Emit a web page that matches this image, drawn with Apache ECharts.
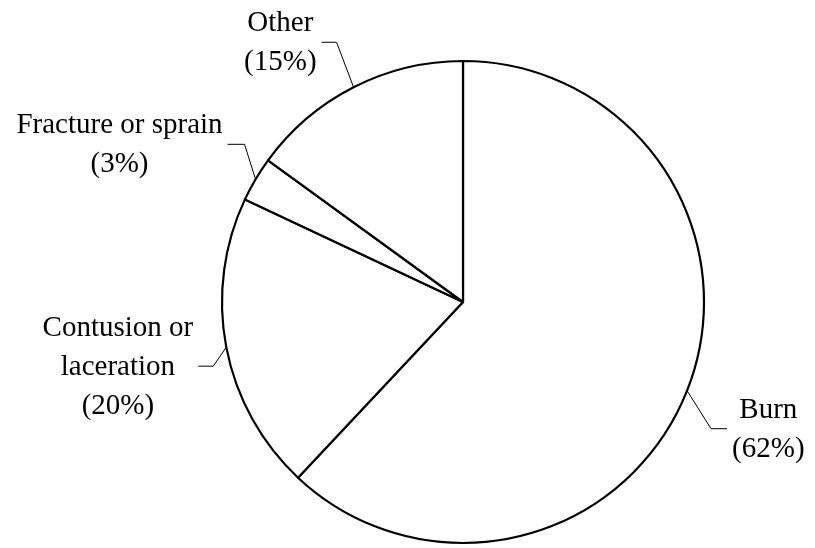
<!DOCTYPE html>
<html>
<head>
<meta charset="utf-8">
<script src="https://cdn.jsdelivr.net/npm/echarts@6/dist/echarts.min.js"></script>
<style>
html,body{margin:0;padding:0;background:#fff;}
#chart{width:815px;height:548px;}
</style>
</head>
<body>
<div id="chart"></div>
<script>
var names = ["Burn", "Contusion or\nlaceration", "Fracture or sprain", "Other"];
var values = [62, 20, 3, 15];

// leader line: [dx, dy] from pie edge to elbow, then horizontal run
var leader = [[24, 38, 16], [-13, 19, -15], [-11, -35, -17], [-17, -45, -15]];

var chart = echarts.init(document.getElementById("chart"));
var pieData = [];
for (var i = 0; i < names.length; i++) {
    pieData.push({name: names[i], value: values[i]});
}

chart.setOption({
    backgroundColor: "#fff",
    animation: false,
    series: [{
        type: "pie",
        center: [463, 302],
        radius: 241,
        startAngle: 90,
        clockwise: true,
        avoidLabelOverlap: false,
        data: pieData,
        itemStyle: {color: "#fff", borderColor: "#000", borderWidth: 2.2},
        emphasis: {disabled: true},
        label: {
            show: true,
            position: "outside",
            formatter: "{b}\n({d}%)",
            fontFamily: "Liberation Serif",
            fontSize: 29,
            lineHeight: 39,
            color: "#000",
            align: "center"
        },
        labelLine: {
            show: true,
            length: 30,
            length2: 15,
            lineStyle: {color: "#000", width: 1}
        },
        labelLayout: function(params){
            var p0 = params.labelLinePoints[0];
            var l = leader[params.dataIndex];
            var p1 = [p0[0] + l[0], p0[1] + l[1]];
            var p2 = [p1[0] + l[2], p1[1]];
            var w = params.labelRect.width;
            var dir = l[2] > 0 ? 1 : -1;
            return {
                x: p2[0] + dir * (5 + w / 2),
                y: p2[1] + 1,
                align: "center",
                verticalAlign: "middle",
                labelLinePoints: [p0, p1, p2]
            };
        }
    }]
});
</script>
</body>
</html>
